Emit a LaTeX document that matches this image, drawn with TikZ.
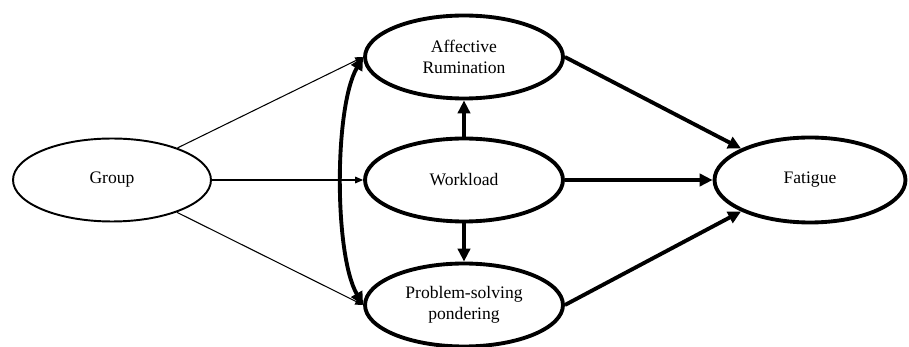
\documentclass[tikz,border=0pt]{standalone}
\usepackage{fontspec}
\setmainfont{Liberation Serif}
\usetikzlibrary{arrows.meta, shapes.geometric}

\begin{document}
\begin{tikzpicture}[
  x=0.02cm, y=-0.02cm,
  var/.style={
    ellipse, draw, line width=2.2pt, fill=white,
    minimum width=3.96cm, minimum height=1.66cm,
    inner sep=1pt, align=center, font=\normalsize
  },
  thinvar/.style={var, line width=1.1pt},
  fl/.style={-{Triangle[length=4.5pt, width=3.8pt]}, line width=0.6pt},
  path/.style={-{Triangle[length=7.4pt, width=7pt]}, line width=2.2pt},
  cov/.style={{Triangle[length=7.4pt, width=7pt]}-{Triangle[length=7.4pt, width=7pt]}, line width=2.2pt},
]
\useasboundingbox (0,0) rectangle (909,347);

% predictor
\node[thinvar] (grp) at (112,180) {Group};

% mediators
\node[var] (aff) at (464,57) {Affective\\Rumination};
\node[var] (work) at (464,180) {Workload};
\node[var] (ps) at (464,305) {Problem-solving\\pondering};

% outcome
\node[var, minimum width=3.82cm, minimum height=1.70cm] (fat) at (810,180) {Fatigue};

% group effects
\draw[fl] (grp) -- (aff.west);
\draw[fl] (grp) -- (work);
\draw[fl] (grp) -- (ps.west);

% workload paths
\draw[path] (work) -- (aff);
\draw[path] (work) -- (ps);
\draw[cov] (aff.west) to[out=240, in=120, looseness=0.6] (ps.west);

% paths to fatigue
\draw[path] (aff.east) -- (fat.north west);
\draw[path] (work) -- (fat);
\draw[path] (ps.east) -- (fat.south west);

\end{tikzpicture}
\end{document}
